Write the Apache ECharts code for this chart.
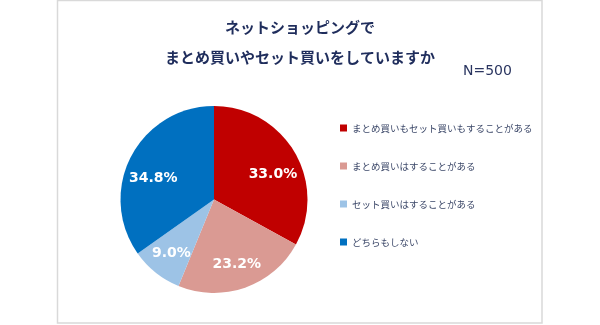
<!DOCTYPE html>
<html>
<head>
<meta charset="utf-8">
<script src="https://cdn.jsdelivr.net/npm/echarts@6/dist/echarts.min.js"></script>
<style>
  html, body { margin: 0; padding: 0; background: #ffffff; }
  #chart { width: 600px; height: 325px; }
</style>
</head>
<body>
<div id="chart"></div>
<script>
// Survey: bulk buying / set buying in online shopping (N=500)
var categories = [
  'まとめ買いもセット買いもすることがある',
  'まとめ買いはすることがある',
  'セット買いはすることがある',
  'どちらもしない'
];
var shares = [33.0, 23.2, 9.0, 34.8];
var sliceColors = ['#C00000', '#DA9A93', '#9DC3E6', '#0070C0'];
var titleLines = ['ネットショッピングで', 'まとめ買いやセット買いをしていますか'];
var sampleNote = 'N=500';

var pieCenter = [214, 199.5];
var pieRadius = 93.5;

var sliceData = categories.map(function (name, i) {
  return { name: name, value: shares[i], itemStyle: { color: sliceColors[i] } };
});

var titleStyle = {
  fontFamily: 'Noto Sans CJK JP',
  fontSize: 15,
  fontWeight: 'bold',
  color: '#1F2D5C'
};

var chart = echarts.init(document.getElementById('chart'), null, { renderer: 'canvas' });
chart.setOption({
  backgroundColor: '#ffffff',
  animation: false,
  title: [
    { text: titleLines[0], left: 'center', top: 20, padding: 0, textStyle: titleStyle },
    { text: titleLines[1], left: 'center', top: 50, padding: 0, textStyle: titleStyle },
    {
      text: sampleNote,
      left: 463,
      top: 64,
      padding: 0,
      textStyle: {
        fontFamily: 'DejaVu Sans',
        fontSize: 14,
        fontWeight: 'normal',
        color: '#2A3560'
      }
    }
  ],
  legend: {
    orient: 'vertical',
    left: 340,
    top: 122,
    padding: 0,
    itemWidth: 7,
    itemHeight: 7,
    itemGap: 26,
    icon: 'rect',
    selectedMode: false,
    data: categories,
    textStyle: {
      fontFamily: 'Noto Sans CJK JP',
      fontSize: 9.5,
      lineHeight: 12,
      color: '#3B4768'
    }
  },
  graphic: [
    {
      type: 'rect',
      shape: { x: 57.5, y: 0.5, width: 484.5, height: 322.5 },
      style: { fill: 'none', stroke: '#D9D9D9', lineWidth: 1.5 },
      silent: true,
      z: -1
    }
  ],
  series: [
    {
      type: 'pie',
      center: pieCenter,
      radius: [0, pieRadius],
      startAngle: 90,
      clockwise: true,
      silent: true,
      label: { show: false },
      labelLine: { show: false },
      data: sliceData
    },
    {
      // transparent ring carrying the percentage labels further out
      type: 'pie',
      center: pieCenter,
      radius: [pieRadius * 0.4, pieRadius],
      startAngle: 90,
      clockwise: true,
      silent: true,
      itemStyle: { color: 'transparent' },
      label: {
        show: true,
        position: 'inside',
        formatter: function (p) { return p.value.toFixed(1) + '%'; },
        fontFamily: 'DejaVu Sans',
        fontSize: 14,
        fontWeight: 'bold',
        color: '#ffffff'
      },
      // labels in the upper half sit a little lower, toward the horizontal axis
      labelLayout: function (params) {
        var r = params.labelRect;
        return (r.y + r.height / 2 < pieCenter[1]) ? { dy: 10 } : {};
      },
      labelLine: { show: false },
      data: categories.map(function (name, i) {
        return { name: name, value: shares[i], itemStyle: { color: 'transparent' } };
      })
    }
  ]
});
</script>
</body>
</html>
